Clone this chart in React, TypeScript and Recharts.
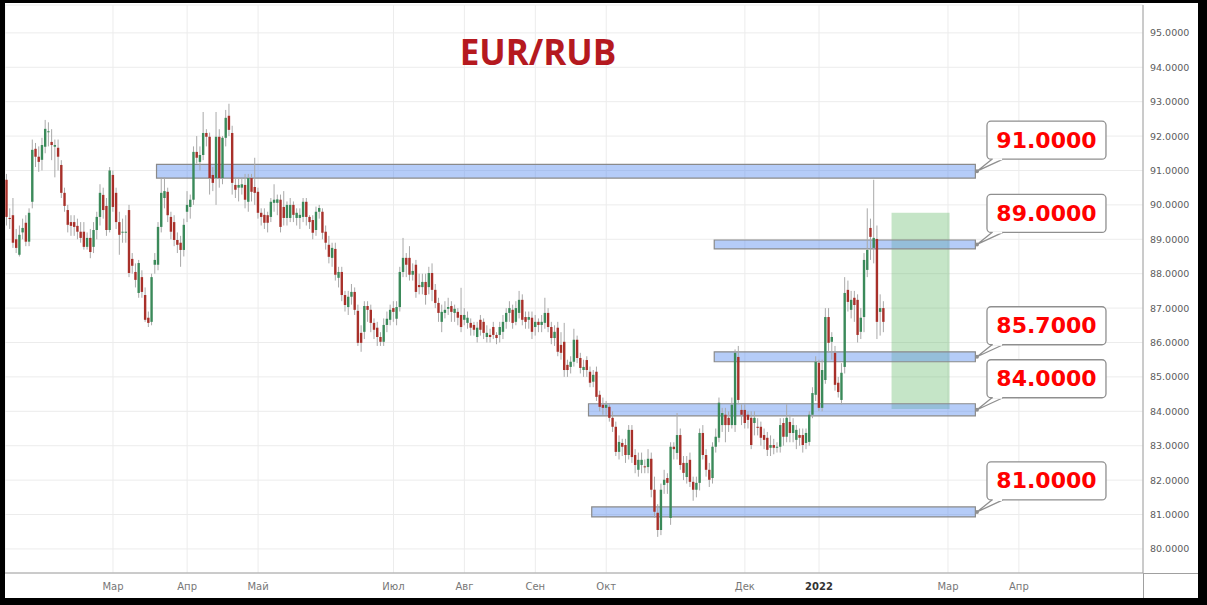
import {
  ComposedChart,
  Bar,
  XAxis,
  YAxis,
  CartesianGrid,
  ReferenceArea,
  ReferenceDot,
} from "recharts";

// Daily EUR/RUB candles, mid Jan 2021 .. mid Feb 2022
const OPEN = [
  90.73, 89.62, 89.7, 89.0, 88.55, 89.2, 89.48, 88.93, 90.09, 91.63,
  91.4, 91.31, 91.69, 92.12, 91.83, 91.69, 91.66, 91.16, 90.35, 89.85,
  89.5, 89.5, 89.39, 89.22, 89.22, 88.78, 89.04, 88.78, 89.27, 89.65,
  90.29, 89.97, 89.27, 90.87, 90.35, 89.5, 89.2, 89.19, 89.85, 88.43,
  88.05, 87.44, 87.9, 87.38, 86.72, 86.6, 88.26, 88.26, 89.36, 90.2,
  90.38, 89.65, 89.5, 88.98, 88.9, 88.69, 89.8, 89.94, 90.15, 91.54,
  91.25, 91.45, 92.09, 91.98, 90.87, 90.78, 91.98, 90.78, 91.95, 92.59,
  92.09, 90.58, 90.5, 90.5, 90.58, 90.09, 90.78, 90.52, 90.38, 89.77,
  89.71, 89.7, 89.65, 90.06, 90.06, 90.15, 89.94, 89.62, 89.62, 90.0,
  89.62, 89.62, 89.65, 90.09, 89.65, 89.56, 89.27, 89.8, 89.8, 89.22,
  88.84, 88.46, 88.72, 87.88, 88.05, 87.38, 87.03, 87.33, 87.47, 86.92,
  86.28, 86.31, 87.06, 86.95, 86.57, 86.43, 86.16, 86.02, 86.51, 86.66,
  87.0, 86.69, 87.03, 88.05, 88.46, 88.46, 87.97, 88.26, 87.67, 87.61,
  87.76, 87.61, 88.02, 87.53, 87.15, 86.6, 86.86, 86.98, 87.06, 86.86,
  86.89, 86.8, 86.66, 86.57, 86.57, 86.51, 86.16, 86.66, 86.6, 86.16,
  86.22, 86.45, 86.22, 86.22, 86.31, 86.6, 86.86, 86.95, 86.6, 86.86,
  87.24, 86.74, 86.66, 86.72, 86.45, 86.6, 86.51, 86.57, 86.86, 86.45,
  86.13, 86.43, 85.93, 86.02, 85.35, 85.29, 85.44, 86.08, 85.55, 85.2,
  85.49, 85.15, 84.86, 85.15, 84.48, 84.19, 84.1, 84.13, 83.81, 83.55,
  82.82, 83.08, 83.02, 82.73, 83.46, 82.73, 82.3, 82.44, 82.4, 82.38,
  82.62, 81.72, 81.05, 80.55, 81.86, 82.06, 80.9, 82.97, 82.79, 83.31,
  82.5, 82.09, 82.59, 81.95, 81.72, 81.92, 83.37, 82.73, 82.3, 82.06,
  82.97, 83.23, 83.6, 83.9, 83.81, 83.6, 83.6, 85.58, 84.04, 84.04,
  83.9, 83.81, 83.66, 83.55, 83.55, 83.31, 83.23, 82.94, 83.02, 82.97,
  82.97, 83.66, 83.26, 83.69, 83.37, 83.17, 83.31, 83.31, 83.08, 83.11,
  83.9, 84.48, 85.41, 84.1, 84.91, 86.74, 86.02, 85.7, 84.83, 84.33,
  85.29, 87.53, 86.95, 87.3, 87.24, 86.31, 86.74, 88.11, 89.33, 88.75,
  89.01, 86.89, 87.0,
];
const HIGH = [
  90.9, 89.9, 90.2, 89.3, 89.4, 89.6, 89.7, 89.9, 91.9, 91.8,
  91.7, 91.95, 92.47, 92.4, 92.2, 91.9, 91.9, 91.3, 90.5, 90.0,
  89.7, 89.7, 89.6, 89.5, 89.5, 89.2, 89.3, 89.5, 89.8, 90.6,
  90.5, 90.2, 91.1, 91.0, 90.5, 89.8, 89.6, 89.7, 90.0, 88.6,
  88.3, 88.4, 88.1, 87.6, 86.9, 88.0, 88.6, 89.5, 90.8, 90.8,
  90.5, 89.8, 89.7, 89.2, 89.1, 89.6, 90.4, 90.3, 91.7, 92.0,
  91.7, 92.7, 92.2, 92.1, 91.1, 92.7, 92.2, 92.0, 92.76, 92.94,
  92.3, 90.8, 90.8, 90.8, 90.9, 90.9, 90.9, 91.37, 90.5, 89.9,
  89.9, 89.8, 90.2, 90.6, 90.3, 90.3, 90.4, 90.1, 90.2, 90.1,
  89.9, 89.9, 90.2, 90.2, 89.7, 89.7, 89.95, 90.0, 89.9, 89.4,
  89.1, 88.9, 88.9, 88.2, 88.2, 87.5, 87.5, 87.7, 87.6, 87.1,
  86.5, 87.2, 87.2, 87.1, 86.7, 86.6, 86.3, 86.7, 86.9, 87.1,
  87.2, 87.2, 88.2, 89.04, 88.6, 88.8, 88.3, 88.4, 88.0, 88.0,
  88.0, 88.2, 88.3, 87.7, 87.3, 87.1, 87.2, 87.3, 87.2, 87.1,
  87.0, 87.59, 87.0, 86.9, 86.7, 86.6, 86.6, 86.8, 86.7, 86.5,
  86.4, 86.6, 86.3, 86.6, 86.8, 87.0, 87.2, 87.1, 87.2, 87.5,
  87.4, 86.9, 86.9, 86.9, 86.8, 86.7, 86.8, 87.3, 87.0, 86.6,
  86.5, 86.6, 86.3, 86.57, 85.5, 85.6, 86.4, 86.2, 85.7, 85.5,
  85.6, 85.3, 85.2, 85.3, 84.6, 84.4, 84.3, 84.2, 84.0, 83.7,
  83.3, 83.2, 83.2, 83.6, 83.6, 82.9, 82.8, 82.8, 82.6, 82.9,
  82.8, 82.1, 81.3, 81.9, 82.3, 82.2, 83.1, 83.1, 83.95, 83.5,
  82.7, 82.7, 82.8, 82.1, 82.1, 83.5, 83.6, 82.9, 82.5, 83.1,
  83.5, 84.4, 84.1, 84.1, 84.0, 84.4, 85.8, 85.9, 84.2, 84.2,
  84.0, 84.0, 84.0, 83.8, 83.7, 83.5, 83.4, 83.3, 83.2, 83.1,
  83.8, 83.8, 84.2, 83.9, 83.8, 83.6, 83.5, 83.5, 83.5, 84.0,
  84.7, 85.6, 85.5, 85.5, 87.0, 87.0, 86.3, 85.9, 85.0, 85.4,
  87.9, 87.8, 87.5, 87.5, 87.4, 87.0, 88.6, 89.9, 89.6, 90.73,
  89.4, 87.4, 87.2,
];
const LOW = [
  89.4, 89.3, 88.75, 88.6, 88.5, 89.0, 88.8, 88.8, 89.9, 91.1,
  90.96, 91.0, 91.5, 91.7, 91.3, 90.8, 91.0, 90.2, 89.8, 89.2,
  89.1, 89.1, 89.0, 88.9, 88.7, 88.7, 88.45, 88.6, 89.0, 89.4,
  89.6, 89.1, 89.2, 89.8, 89.3, 88.55, 88.9, 88.9, 87.9, 88.0,
  87.6, 87.3, 87.3, 86.6, 86.45, 86.5, 88.0, 88.1, 89.2, 89.9,
  89.5, 89.0, 88.8, 88.6, 88.2, 88.5, 89.5, 89.6, 90.0, 91.2,
  91.0, 91.3, 91.7, 90.3, 90.4, 90.0, 90.5, 90.6, 91.7, 92.0,
  90.3, 90.2, 90.1, 90.3, 89.9, 89.8, 90.1, 90.0, 89.6, 89.4,
  89.3, 89.2, 89.5, 89.8, 89.7, 89.2, 89.4, 89.4, 89.5, 89.5,
  89.4, 89.3, 89.5, 89.4, 89.3, 89.0, 89.1, 89.6, 89.0, 88.7,
  88.3, 88.2, 87.8, 87.6, 87.2, 86.9, 86.8, 87.1, 86.8, 85.9,
  85.73, 86.1, 86.6, 86.3, 86.1, 85.9, 85.9, 85.9, 86.3, 86.5,
  86.6, 86.5, 86.9, 87.9, 87.9, 87.8, 87.8, 87.3, 87.4, 87.4,
  87.1, 87.4, 87.2, 87.0, 86.6, 86.3, 86.7, 86.8, 86.6, 86.6,
  86.5, 86.3, 86.5, 86.4, 86.2, 86.2, 86.0, 86.2, 86.1, 86.0,
  86.0, 86.1, 85.95, 86.0, 86.1, 86.4, 86.6, 86.4, 86.5, 86.7,
  86.5, 86.4, 86.4, 86.1, 86.2, 86.3, 86.3, 86.4, 86.3, 85.95,
  85.9, 85.6, 85.5, 85.0, 85.0, 85.1, 85.3, 85.4, 85.1, 85.0,
  85.0, 84.7, 84.7, 84.3, 84.0, 83.9, 83.9, 83.7, 83.4, 82.7,
  82.6, 82.7, 82.5, 82.6, 82.5, 82.2, 82.1, 82.2, 82.2, 82.2,
  81.5, 80.9, 80.35, 80.4, 81.6, 81.6, 80.7, 82.6, 82.6, 82.3,
  82.0, 81.9, 81.8, 81.4, 81.5, 81.7, 82.6, 82.1, 81.8, 81.9,
  82.8, 83.1, 83.4, 83.1, 83.4, 83.5, 83.4, 84.2, 83.6, 83.5,
  83.5, 82.9, 83.3, 83.3, 83.0, 82.9, 82.7, 82.7, 82.75, 82.8,
  82.8, 83.0, 83.1, 83.1, 83.1, 82.9, 83.0, 82.8, 82.9, 83.0,
  83.8, 84.3, 84.0, 84.0, 84.8, 85.7, 85.5, 84.6, 84.4, 84.2,
  85.1, 86.9, 86.7, 86.6, 86.0, 86.1, 86.3, 87.9, 88.4, 88.3,
  86.1, 86.2, 86.3,
];
const CLOSE = [
  89.65, 89.6, 88.9, 88.75, 89.13, 89.33, 88.93, 89.77, 91.6, 91.4,
  91.25, 91.74, 92.21, 92.14, 91.74, 91.74, 91.4, 90.35, 89.97, 89.42,
  89.39, 89.36, 89.22, 89.04, 88.78, 89.04, 88.63, 89.27, 89.65, 90.35,
  89.85, 89.27, 91.0, 89.94, 89.5, 89.13, 89.22, 89.22, 88.02, 88.23,
  87.82, 88.31, 87.47, 86.66, 86.57, 87.9, 88.4, 89.36, 90.35, 90.4,
  89.7, 89.22, 88.98, 88.84, 88.69, 89.42, 90.0, 90.15, 91.54, 91.37,
  91.45, 92.09, 91.98, 90.78, 90.64, 91.98, 90.78, 91.95, 92.53, 92.18,
  90.64, 90.44, 90.58, 90.6, 90.15, 90.78, 90.38, 90.35, 89.77, 89.65,
  89.48, 89.48, 90.09, 90.15, 90.16, 89.36, 89.62, 90.0, 90.0, 89.71,
  89.77, 89.71, 90.09, 89.65, 89.5, 89.19, 89.8, 89.91, 89.19, 88.9,
  88.49, 88.75, 87.97, 88.05, 87.38, 87.09, 87.33, 87.47, 86.95, 85.99,
  85.99, 87.06, 86.95, 86.57, 86.37, 86.16, 86.02, 86.51, 86.69, 86.95,
  86.89, 87.03, 88.05, 88.46, 88.26, 87.97, 88.08, 87.47, 87.61, 87.76,
  87.38, 88.02, 87.53, 87.15, 86.86, 86.89, 86.95, 87.03, 86.89, 86.98,
  86.72, 86.45, 86.8, 86.72, 86.43, 86.37, 86.43, 86.37, 86.28, 86.28,
  86.16, 86.22, 86.13, 86.45, 86.6, 86.86, 87.0, 86.57, 87.0, 87.24,
  86.66, 86.6, 86.74, 86.31, 86.6, 86.51, 86.6, 86.86, 86.45, 86.13,
  86.31, 85.73, 85.7, 85.2, 85.2, 85.44, 86.08, 85.55, 85.26, 85.29,
  85.2, 84.83, 85.06, 84.42, 84.13, 84.1, 84.19, 83.81, 83.55, 82.82,
  83.11, 82.97, 82.73, 83.46, 82.67, 82.44, 82.59, 82.59, 82.38, 82.62,
  81.72, 81.08, 80.55, 81.72, 82.01, 81.92, 82.97, 82.9, 83.31, 82.44,
  82.21, 82.5, 81.95, 81.72, 81.92, 83.37, 82.73, 82.3, 82.01, 82.97,
  83.26, 84.25, 83.95, 83.6, 83.6, 84.19, 85.7, 84.33, 83.9, 83.66,
  83.75, 83.02, 83.81, 83.52, 83.23, 83.17, 82.88, 83.02, 82.94, 82.97,
  83.6, 83.26, 83.81, 83.37, 83.6, 83.46, 83.23, 83.02, 83.37, 83.9,
  84.53, 85.44, 84.1, 85.2, 86.74, 85.99, 86.16, 84.77, 84.56, 85.12,
  87.44, 87.18, 87.24, 87.09, 86.22, 86.72, 88.4, 88.69, 89.07, 89.04,
  86.6, 87.0, 86.6,
];

// bar slots on the time axis (the right part stays empty, as in the picture)
const SLOTS = 353;
const MONTH_TICKS = [33, 56, 78, 120, 142, 164, 186, 229, 252, 292, 314];
const MONTH_LABELS = ["Мар", "Апр", "Май", "Июл", "Авг", "Сен", "Окт", "Дек", "2022", "Мар", "Апр"];
const PRICE_TICKS = [80, 81, 82, 83, 84, 85, 86, 87, 88, 89, 90, 91, 92, 93, 94, 95];

// horizontal levels drawn as boxes, with a callout at their right end
const LEVELS = [91, 89, 85.7, 84, 81];
const BAND_LOW = [90.78, 88.72, 85.44, 83.87, 80.93];
const BAND_HIGH = [91.18, 88.98, 85.73, 84.22, 81.22];
const BAND_FROM = [47, 220, 220, 181, 182];
const BAND_TO = 300;
const CALLOUT_AT = 301;

// projected range box
const ZONE_FROM = 275;
const ZONE_TO = 292;
const ZONE_LOW = 84.07;
const ZONE_HIGH = 89.77;

const GREEN = "#3b8a5a";
const RED = "#a8302a";
const WICK = "#a9a9a9";
const AXIS_TEXT = "#5c5c5c";
const AXIS_LINE = "#a0a0a0";

const data = Array.from({ length: SLOTS }, (_, i) =>
  i < OPEN.length
    ? { i, o: OPEN[i], h: HIGH[i], l: LOW[i], c: CLOSE[i], range: [LOW[i], HIGH[i]] }
    : { i }
);

function Candle(props: any) {
  const { x, y, width, height, payload } = props;
  if (!payload || payload.o == null || y == null || isNaN(y)) return <g />;
  const top = Math.min(y, y + height);
  const bot = Math.max(y, y + height);
  const span = payload.h - payload.l || 1;
  const py = (v: number) => top + ((payload.h - v) / span) * (bot - top);
  const cx = x + width / 2;
  const b1 = py(Math.max(payload.o, payload.c));
  const b2 = py(Math.min(payload.o, payload.c));
  return (
    <g>
      <line x1={cx} x2={cx} y1={top} y2={bot} stroke={WICK} strokeWidth={1} />
      <rect
        x={cx - 1.2}
        y={b1}
        width={2.4}
        height={Math.max(1, b2 - b1)}
        fill={payload.c >= payload.o ? GREEN : RED}
      />
    </g>
  );
}

function MonthTick(props: any) {
  const { x, y, payload } = props;
  const label = MONTH_LABELS[MONTH_TICKS.indexOf(payload.value)] ?? "";
  const bold = label === "2022";
  return (
    <text
      x={x}
      y={y + 17}
      textAnchor="middle"
      fontFamily="DejaVu Sans"
      fontSize={10}
      fontWeight={bold ? 700 : 400}
      fill={bold ? "#333" : "#777"}
    >
      {label}
    </text>
  );
}

function PriceTick(props: any) {
  const { x, y, payload } = props;
  return (
    <text x={x + 7} y={y + 3.5} textAnchor="start" fontFamily="DejaVu Sans" fontSize={9.5} fill={AXIS_TEXT}>
      {Number(payload.value).toFixed(4)}
    </text>
  );
}

function Callout(props: any) {
  const { cx, cy, text } = props;
  if (cx == null || cy == null) return <g />;
  const bx = cx + 10;
  const by = cy - 50;
  const bw = 119;
  const bh = 38;
  return (
    <g>
      <path
        d={`M${bx + 5},${by + bh} L${cx},${cy} L${bx + 16},${by + bh}`}
        fill="#fff"
        stroke="#8f8f8f"
        strokeWidth={1.3}
      />
      <rect x={bx} y={by} width={bw} height={bh} rx={4} fill="#fff" stroke="#8f8f8f" strokeWidth={1.3} />
      <line x1={bx + 5.8} x2={bx + 15.2} y1={by + bh} y2={by + bh} stroke="#fff" strokeWidth={2} />
      <circle cx={cx} cy={cy} r={2} fill="#8f8f8f" />
      <text
        x={bx + bw / 2}
        y={by + 26.5}
        textAnchor="middle"
        fontFamily="DejaVu Sans"
        fontWeight={700}
        fontSize={22}
        fill="#ff0000"
      >
        {text}
      </text>
    </g>
  );
}

export default function App() {
  return (
    <div style={{ position: "absolute", left: 0, top: 0, width: 1207, height: 605, background: "#000" }}>
      <div style={{ position: "absolute", left: 5, top: 3, width: 1193, height: 595, background: "#fff" }}>
        <ComposedChart
          width={1193}
          height={595}
          data={data}
          margin={{ top: 2, right: 0, left: 0, bottom: 0 }}
          barCategoryGap={0}
        >
          <CartesianGrid stroke="#ececec" />
          <XAxis
            dataKey="i"
            type="category"
            ticks={MONTH_TICKS}
            interval={0}
            tick={<MonthTick />}
            tickLine={false}
            tickSize={0}
            tickMargin={0}
            axisLine={{ stroke: AXIS_LINE }}
            height={25}
          />
          <YAxis
            orientation="right"
            width={55}
            domain={[79.3, 95.81]}
            allowDataOverflow
            ticks={PRICE_TICKS}
            tick={<PriceTick />}
            tickLine={false}
            tickSize={0}
            tickMargin={0}
            axisLine={{ stroke: AXIS_LINE }}
          />
          <Bar dataKey="range" shape={<Candle />} barSize={3} isAnimationActive={false} />
          <ReferenceArea
            x1={ZONE_FROM}
            x2={ZONE_TO}
            y1={ZONE_LOW}
            y2={ZONE_HIGH}
            fill="#4caf50"
            fillOpacity={0.32}
            stroke="none"
            ifOverflow="visible"
          />
          {LEVELS.map((lv, k) => (
            <ReferenceArea
              key={"band" + lv}
              x1={BAND_FROM[k]}
              x2={BAND_TO}
              y1={BAND_LOW[k]}
              y2={BAND_HIGH[k]}
              fill="#5b8ff0"
              fillOpacity={0.45}
              stroke="#8a8a8a"
              strokeWidth={1.2}
              ifOverflow="visible"
            />
          ))}
          {LEVELS.map((lv, k) => (
            <ReferenceDot
              key={"call" + lv}
              x={CALLOUT_AT}
              y={(BAND_LOW[k] + BAND_HIGH[k]) / 2}
              r={2}
              ifOverflow="visible"
              shape={(p: any) => <Callout {...p} text={lv.toFixed(4)} />}
            />
          ))}
        </ComposedChart>
        {/* time-scale and price-scale borders carried across the corner */}
        <div style={{ position: "absolute", left: 1138, top: 570, width: 55, height: 1, background: AXIS_LINE }} />
        <div style={{ position: "absolute", left: 1138, top: 570, width: 1, height: 25, background: AXIS_LINE }} />
      </div>
      <svg
        width={1207}
        height={605}
        style={{ position: "absolute", left: 0, top: 0, pointerEvents: "none" }}
      >
        <text
          x={538}
          y={65}
          textAnchor="middle"
          fontFamily="Open Sans"
          fontWeight={700}
          fontSize={35}
          fill="#b5191f"
        >
          EUR/RUB
        </text>
      </svg>
    </div>
  );
}
